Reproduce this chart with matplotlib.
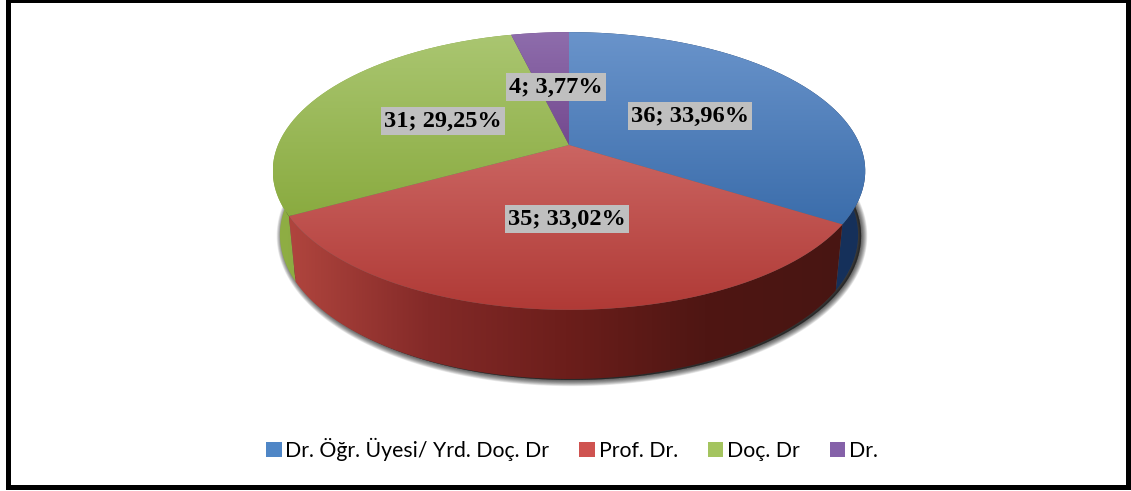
import matplotlib
matplotlib.use('Agg')
import matplotlib.pyplot as plt
import numpy as np
from matplotlib.colors import to_rgb
from matplotlib.patches import Patch, PathPatch, Rectangle
from matplotlib.path import Path

categories = ['Dr. Öğr. Üyesi/ Yrd. Doç. Dr', 'Prof. Dr.', 'Doç. Dr', 'Dr.']
values = [36, 35, 31, 4]

# colour stops of the top face (top to bottom) and of the side (left to right)
top_colors = [('#6a94cb', '#3b6dab'), ('#cb6562', '#b03a36'),
              ('#aac671', '#8aab40'), ('#8e6dac', '#74498f')]
side_colors = [('#1b3a63', '#15305a'), ('#b0453e', '#842a28', '#6c1e1b', '#4f1613', '#481512'),
               ('#8fae44', '#7f9e38'), ('#5c3a78', '#5c3a78')]
legend_colors = ['#4f86c6', '#cf5350', '#a4c45f', '#8561a9']
label_pos = [(690, 116), (567, 219), (443, 121), (556, 87)]

cx, cy = 569, 145
k = 0.187


def top_rim(t):
    s = 1 / (1 + k * np.cos(t))
    return cx + 291 * np.sin(t) * s, cy - 134 * np.cos(t) * s


def bottom_rim(t):
    s = 1 / (1 + k * np.cos(t))
    return cx + 284 * np.sin(t) * s, 208 - 139 * np.cos(t) * s


def gradient(ax, verts, stops, horizontal=False):
    verts = np.array(verts)
    x0, y0 = verts.min(axis=0)
    x1, y1 = verts.max(axis=0)
    f = np.linspace(0, 1, 256)
    pos = np.linspace(0, 1, len(stops))
    rgb = np.array([np.interp(f, pos, ch) for ch in np.array([to_rgb(c) for c in stops]).T]).T
    img = rgb[None, :, :] if horizontal else rgb[:, None, :]
    im = ax.imshow(img, extent=(x0, x1, y1, y0), aspect='auto', zorder=3)
    im.set_clip_path(PathPatch(Path(np.vstack([verts, verts[0]])), transform=ax.transData))


fig = plt.figure(figsize=(11.31, 4.91), dpi=100)
ax = fig.add_axes([0, 0, 1, 1])

edges = np.cumsum([0] + values) / sum(values) * 2 * np.pi
arcs = [np.linspace(a, b, 150) for a, b in zip(edges[:-1], edges[1:])]

# soft shadow under the pie
t = np.linspace(0, 2 * np.pi, 400)
sx, sy = bottom_rim(t)
for lw in np.arange(9, 0, -0.75):
    ax.fill(sx + 3, sy + 1, facecolor='black', edgecolor='black', alpha=0.07, lw=lw, zorder=2)

# side walls, red last because it sits in front
for i in [0, 2, 3, 1]:
    tx, ty = top_rim(arcs[i])
    bx, by = bottom_rim(arcs[i])
    wall = np.vstack([np.c_[tx, ty], np.c_[bx, by][::-1]])
    gradient(ax, wall, side_colors[i], horizontal=True)

# top faces
for i, arc in enumerate(arcs):
    tx, ty = top_rim(arc)
    face = np.vstack([[cx, cy], np.c_[tx, ty]])
    gradient(ax, face, top_colors[i])

total = sum(values)
for v, (x, y) in zip(values, label_pos):
    txt = f'{v}; {v / total * 100:.2f}%'.replace('.', ',')
    ax.text(x, y, txt, family='Liberation Serif', weight='bold', fontsize=17.6, color='black',
            ha='center', va='center', zorder=5,
            bbox=dict(facecolor='#bfbfbf', edgecolor='none', pad=2.4))

handles = [Patch(facecolor=c, edgecolor='none') for c in legend_colors]
ax.legend(handles, categories, ncol=4, loc='center', bbox_to_anchor=(572 / 1131, 1 - 449 / 491),
          frameon=False, prop={'family': 'Lato', 'size': 15.3}, handlelength=0.73, handleheight=0.73,
          handletextpad=0.18, columnspacing=1.41, labelcolor='black')

ax.add_patch(Rectangle((7.5, 0), 1120, 487, fill=False, edgecolor='black', lw=3.6, zorder=6))

ax.set_xlim(0, 1131)
ax.set_ylim(491, 0)
ax.axis('off')
fig.savefig('out.png', dpi=100, facecolor='white')
